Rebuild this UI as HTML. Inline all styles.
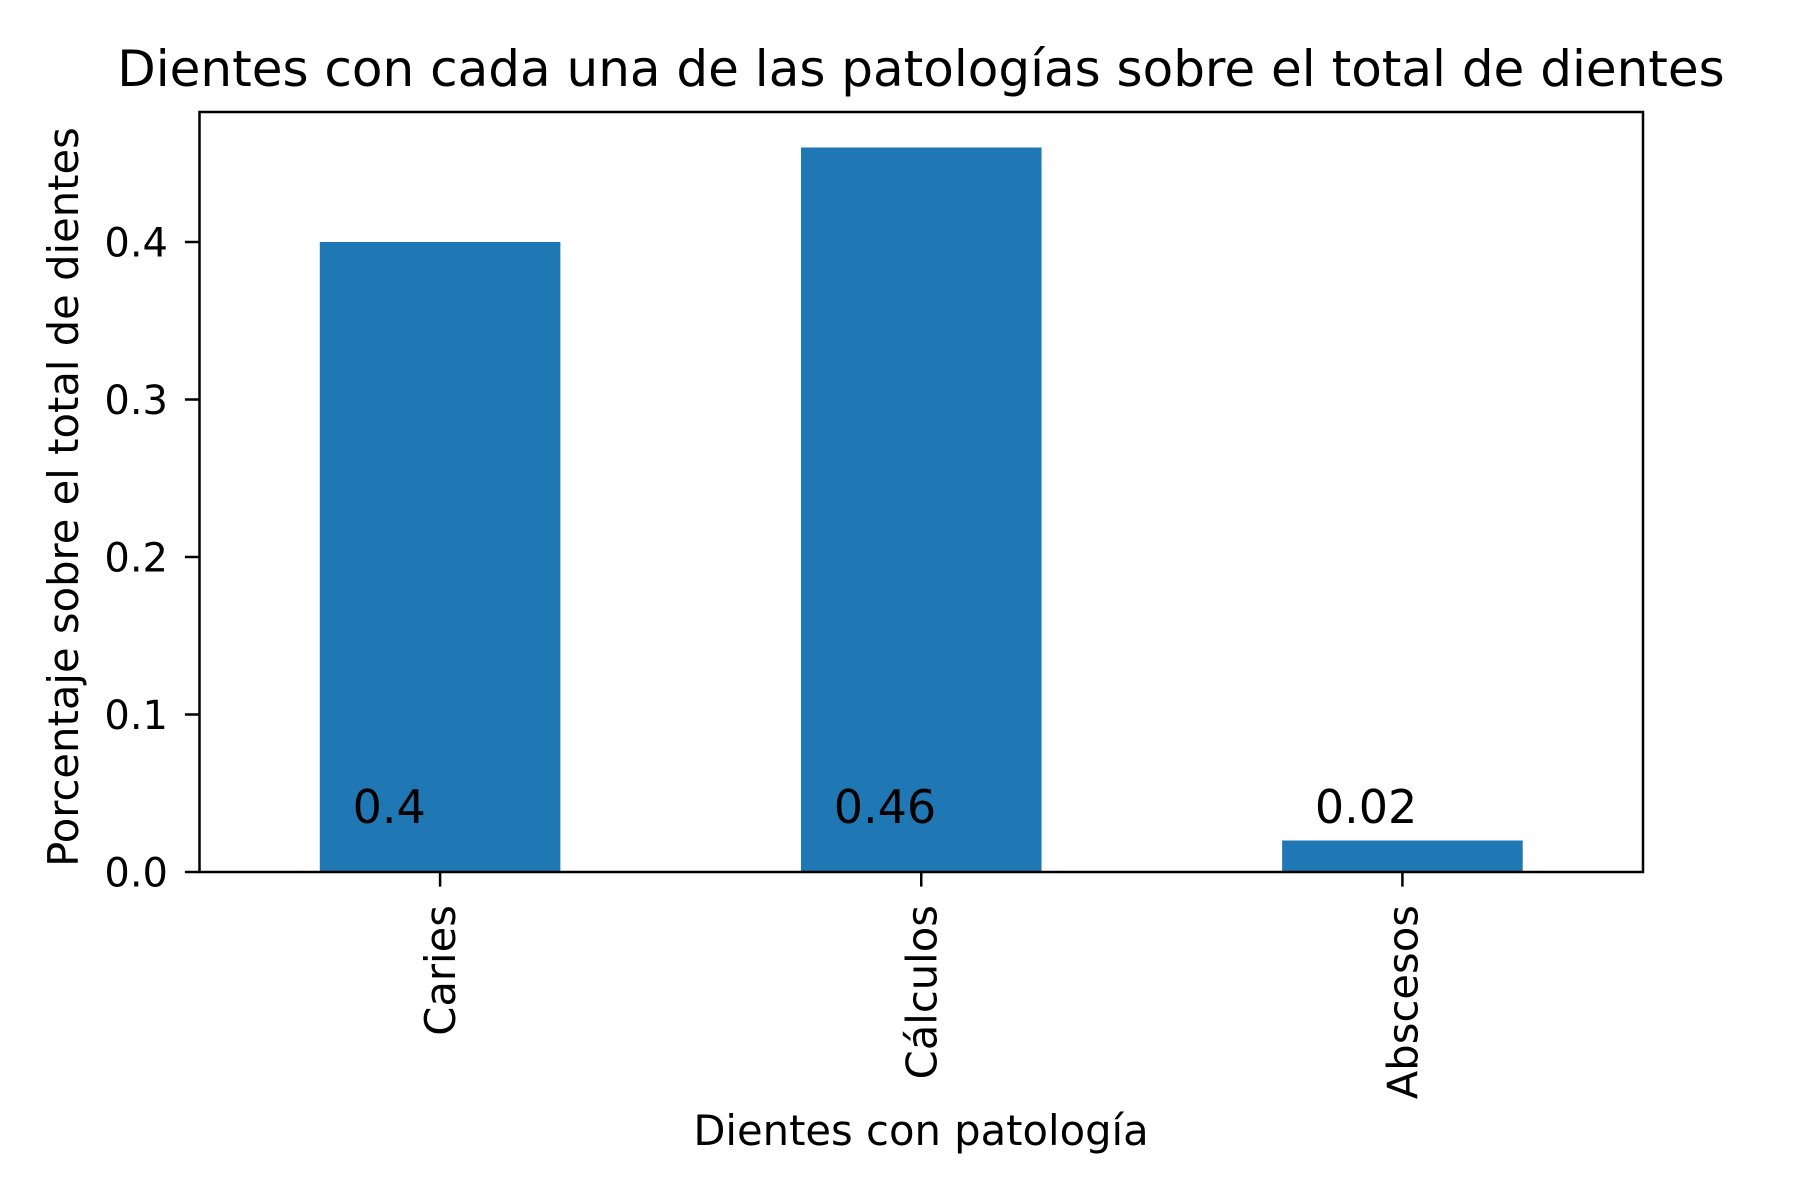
<!DOCTYPE html>
<html><head><meta charset="utf-8"><style>
html,body{margin:0;padding:0;background:#fff;}
svg{display:block;font-family:"DejaVu Sans","Liberation Sans",sans-serif;}
</style></head><body>
<svg id="chart" width="1800" height="1200" viewBox="0 0 1800 1200" xmlns="http://www.w3.org/2000/svg">
<rect width="1800" height="1200" fill="#fff"/>
<text x="921" y="86" font-size="50" text-anchor="middle">Dientes con cada una de las patologías sobre el total de dientes</text>
<text transform="translate(78,497) rotate(-90)" font-size="41.7" text-anchor="middle">Porcentaje sobre el total de dientes</text>
<text x="921" y="1145" font-size="41.7" text-anchor="middle">Dientes con patología</text>
<g id="marks"></g>
<rect x="199.5" y="112" width="1443.5" height="760" fill="none" stroke="#000" stroke-width="2.5"/>
</svg>
<script>
const categories = ["Caries", "Cálculos", "Abscesos"];
const values = [0.4, 0.46, 0.02];
const valueLabels = ["0.4", "0.46", "0.02"];
const yTicks = [0.0, 0.1, 0.2, 0.3, 0.4];
const yTickLabels = ["0.0", "0.1", "0.2", "0.3", "0.4"];

const L = 199.5, R = 1643, T = 112, B = 872;
const yMax = (B - T) / 1575;
function xScale(i) { return L + (i + 0.5) * (R - L) / categories.length; }
function yScale(v) { return B - v / yMax * (B - T); }
const band = (R - L) / categories.length;
const NS = "http://www.w3.org/2000/svg";
const g = document.getElementById('marks');
function mk(tag, attrs) { const e = document.createElementNS(NS, tag); for (const k in attrs) e.setAttribute(k, attrs[k]); g.appendChild(e); return e; }

categories.forEach((c, i) => {
  const cx = xScale(i);
  const bar = mk('rect', {x: cx - band * 0.25, y: yScale(values[i]), width: band * 0.5, height: B - yScale(values[i]), fill: '#1f77b4'});
  
  
  const lab = mk('text', {x: cx - 87.5, y: yScale(0.031), 'font-size': 46});
  lab.textContent = valueLabels[i];
  
  
  const tk = mk('line', {x1: cx, x2: cx, y1: B, y2: B + 14.6, stroke: '#000', 'stroke-width': 2.5});
  
  
  const tl = mk('text', {transform: `translate(${cx + 15},${B + 33}) rotate(-90)`, 'font-size': 41.7, 'text-anchor': 'end'});
  tl.textContent = c;
  
  
});

yTicks.forEach((v, i) => {
  const y = yScale(v);
  const tk = mk('line', {x1: L - 14.6, x2: L, y1: y, y2: y, stroke: '#000', 'stroke-width': 2.5});
  
  
  const tl = mk('text', {x: 168, y: y + 14.5, 'font-size': 40, 'text-anchor': 'end'});
  tl.textContent = yTickLabels[i];
  
  
});
</script>
</body></html>
